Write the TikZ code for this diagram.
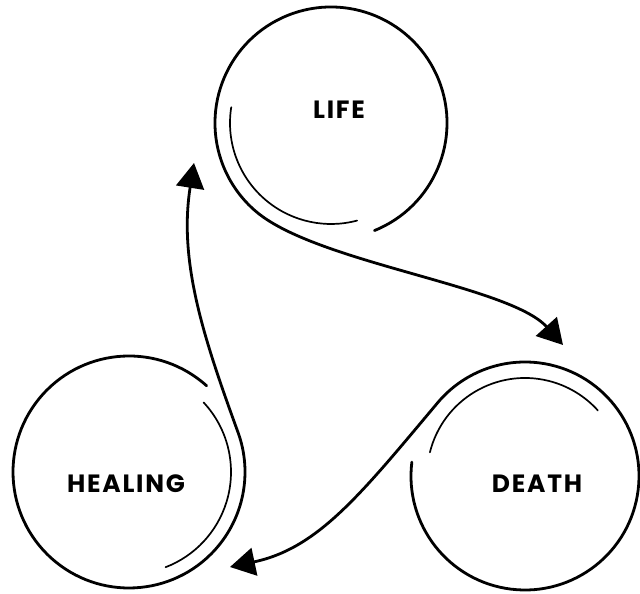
\documentclass[tikz,border=0pt]{standalone}
\usepackage{fontspec}
\setmainfont{Poppins}[LetterSpace=7]
\usetikzlibrary{calc,arrows.meta}

\begin{document}
\begin{tikzpicture}[
    x=1pt, y=1pt,
    outerline/.style={line width=2.8pt, line cap=round},
    innerline/.style={line width=1.7pt, line cap=round},
    tiparrow/.style={-{Triangle[length=25pt, width=28pt]}},
    every node/.style={font=\bfseries\fontsize{25}{30}\selectfont}
]
    \useasboundingbox (0,0) rectangle (640,594);

    % Circle centres and arrow ends
    \coordinate (life) at (331,471);
    \coordinate (death) at (525,118);
    \coordinate (healing) at (129,122);
    \coordinate (lifein) at (194,431);
    \coordinate (deathin) at (563,249);
    \coordinate (healingin) at (230,27);

    % Labels
    \node (lifelabel) at (339,484.5) {LIFE};
    \node (deathlabel) at (537,110) {DEATH};
    \node (healinglabel) at (126,110) {HEALING};

    % Life -> Death
    \draw[outerline, tiparrow] ($(life)+(-68:116)$) arc[start angle=-68, end angle=230, radius=116]
        .. controls +(320:80) and +(132:80) .. (deathin);
    \draw[innerline] ($(life)+(171:101)$) arc[start angle=171, end angle=285, radius=101];

    % Death -> Healing
    \draw[outerline, tiparrow] ($(death)+(173:114)$) arc[start angle=173, end angle=500, radius=114]
        .. controls +(230:120) and +(12:90) .. (healingin);
    \draw[innerline] ($(death)+(166:98)$) arc[start angle=166, end angle=42, radius=98];

    % Healing -> Life
    \draw[outerline, tiparrow] ($(healing)+(48:116)$) arc[start angle=48, end angle=380, radius=116]
        .. controls +(110:100) and +(261:100) .. (lifein);
    \draw[innerline] ($(healing)+(43:102)$) arc[start angle=43, end angle=-69, radius=102];
\end{tikzpicture}
\end{document}
